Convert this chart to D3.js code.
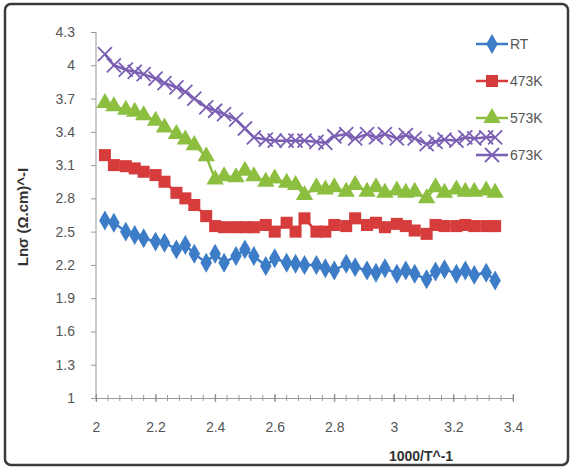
<!DOCTYPE html>
<html><head><meta charset="utf-8">
<script src="https://cdn.jsdelivr.net/npm/d3@7/dist/d3.min.js"></script>
<style>body{margin:0;background:#fff}svg{display:block}</style>
</head><body><svg id="c" width="574" height="470"></svg>
<script>
const xValues = [2.03,2.06,2.10,2.13,2.16,2.20,2.23,2.27,2.30,2.33,2.37,2.40,2.43,2.47,2.50,2.53,2.57,2.60,2.64,2.67,2.70,2.74,2.77,2.80,2.84,2.87,2.91,2.94,2.97,3.01,3.04,3.07,3.11,3.14,3.17,3.21,3.24,3.27,3.31,3.34];
const seriesNames = ["RT","473K","573K","673K"];
const rt    = [2.60,2.58,2.50,2.47,2.44,2.41,2.40,2.34,2.38,2.30,2.22,2.30,2.22,2.28,2.34,2.28,2.19,2.26,2.22,2.21,2.20,2.20,2.17,2.15,2.21,2.18,2.15,2.13,2.17,2.12,2.15,2.12,2.07,2.14,2.16,2.12,2.15,2.11,2.13,2.06];
const k473  = [3.19,3.10,3.09,3.07,3.04,3.01,2.95,2.85,2.80,2.74,2.64,2.55,2.54,2.54,2.54,2.54,2.56,2.50,2.58,2.50,2.62,2.50,2.50,2.56,2.55,2.62,2.56,2.58,2.54,2.57,2.55,2.51,2.48,2.56,2.55,2.55,2.56,2.55,2.55,2.55];
const k573  = [3.66,3.63,3.60,3.58,3.55,3.50,3.44,3.38,3.33,3.28,3.18,2.97,3.00,2.99,3.05,3.00,2.95,2.98,2.94,2.92,2.83,2.90,2.88,2.90,2.86,2.92,2.86,2.90,2.85,2.87,2.85,2.86,2.80,2.90,2.85,2.88,2.86,2.86,2.87,2.85];
const k673  = [4.10,4.00,3.96,3.94,3.92,3.88,3.84,3.80,3.76,3.70,3.62,3.59,3.56,3.51,3.43,3.35,3.33,3.32,3.32,3.32,3.32,3.31,3.30,3.36,3.38,3.34,3.38,3.35,3.38,3.34,3.37,3.34,3.29,3.31,3.33,3.32,3.35,3.34,3.35,3.35];
const yTicks = [1,1.3,1.6,1.9,2.2,2.5,2.8,3.1,3.4,3.7,4,4.3];
const xTicks = [2,2.2,2.4,2.6,2.8,3,3.2,3.4];
const colors = ["#3d7cc6","#d63c3b","#8cbf3f","#7a5fb3"];
const allSeries = [rt,k473,k573,k673];

const svg = d3.select("#c");
svg.append("rect").attr("x",5).attr("y",4).attr("width",563).attr("height",461).attr("rx",6)
  .attr("fill","#fff").attr("stroke","#3a3a3a").attr("stroke-width",2.5);

const x = d3.scaleLinear().domain([2,3.4]).range([96,513]);
const y = d3.scaleLinear().domain([1,4.3]).range([398,32]);
const font = "'Liberation Sans', Arial, sans-serif";

// minor x ticks
const minor = d3.range(0,36).map(i=>2+i*0.04).filter(v=>v<=3.4001);
svg.append("g").selectAll("line").data(minor).join("line")
  .attr("x1",d=>x(d)).attr("x2",d=>x(d)).attr("y1",398-3).attr("y2",398+3)
  .attr("stroke","#999").attr("stroke-width",1);

const gx = svg.append("g").attr("transform","translate(0,398)")
  .call(d3.axisBottom(x).tickValues(xTicks).tickFormat(d3.format("")).tickSizeInner(8).tickSizeOuter(0));
gx.selectAll("line").attr("stroke","#888").attr("transform","translate(0,-4)");
gx.select(".domain").attr("stroke","#999");
gx.selectAll("text").attr("font-family",font).attr("font-size",14).attr("fill","#555").attr("y",24).attr("dy","0.71em");

const gy = svg.append("g").attr("transform","translate(96,0)")
  .call(d3.axisLeft(y).tickValues(yTicks).tickFormat(d3.format("")).tickSizeInner(5).tickSizeOuter(0));
gy.selectAll("line").attr("stroke","#999");
gy.select(".domain").attr("stroke","#999").attr("d","M0,"+y(4.3)+"V"+y(1));
gy.selectAll("text").attr("font-family",font).attr("font-size",14).attr("fill","#555").attr("x",-21);

svg.append("text").attr("x",421).attr("y",461).attr("text-anchor","middle")
  .attr("font-family",font).attr("font-size",14).attr("font-weight","bold").attr("fill","#333").text("1000/T^-1");
svg.append("text").attr("transform","translate(28,217) rotate(-90)").attr("text-anchor","middle")
  .attr("font-family",font).attr("font-size",15).attr("font-weight","bold").attr("fill","#333").text("Lnσ  (Ω.cm)^-I");

const line = d3.line().x((d,i)=>x(xValues[i])).y(d=>y(d));
const shapes = [d3.symbolDiamond,d3.symbolSquare,d3.symbolTriangle,null];
const sizes = [115,145,130,0];

function marker(g, k, cx, cy){
  if(k===3){
    const s=7;
    g.append("path").attr("d",`M${cx-s},${cy-s}L${cx+s},${cy+s}M${cx-s},${cy+s}L${cx+s},${cy-s}`)
      .attr("stroke",colors[k]).attr("stroke-width",1.8).attr("fill","none");
  } else {
    g.append("path").attr("d",d3.symbol().type(shapes[k]).size(sizes[k])())
      .attr("transform",`translate(${cx},${cy})`).attr("fill",colors[k]);
  }
}

allSeries.forEach((s,k)=>{
  const g = svg.append("g");
  g.append("path").datum(s).attr("d",line).attr("fill","none").attr("stroke",colors[k]).attr("stroke-width",2.5);
  s.forEach((v,i)=>marker(g,k,x(xValues[i]),y(v)));
});

// legend
const legY = [44,81,118,155];
seriesNames.forEach((n,k)=>{
  const g = svg.append("g");
  g.append("line").attr("x1",476).attr("x2",508).attr("y1",legY[k]).attr("y2",legY[k]).attr("stroke",colors[k]).attr("stroke-width",2.5);
  marker(g,k,492,legY[k]);
  g.append("text").attr("x",510).attr("y",legY[k]+5).attr("font-family",font).attr("font-size",14).attr("fill","#555").text(n);
});
</script></body></html>
